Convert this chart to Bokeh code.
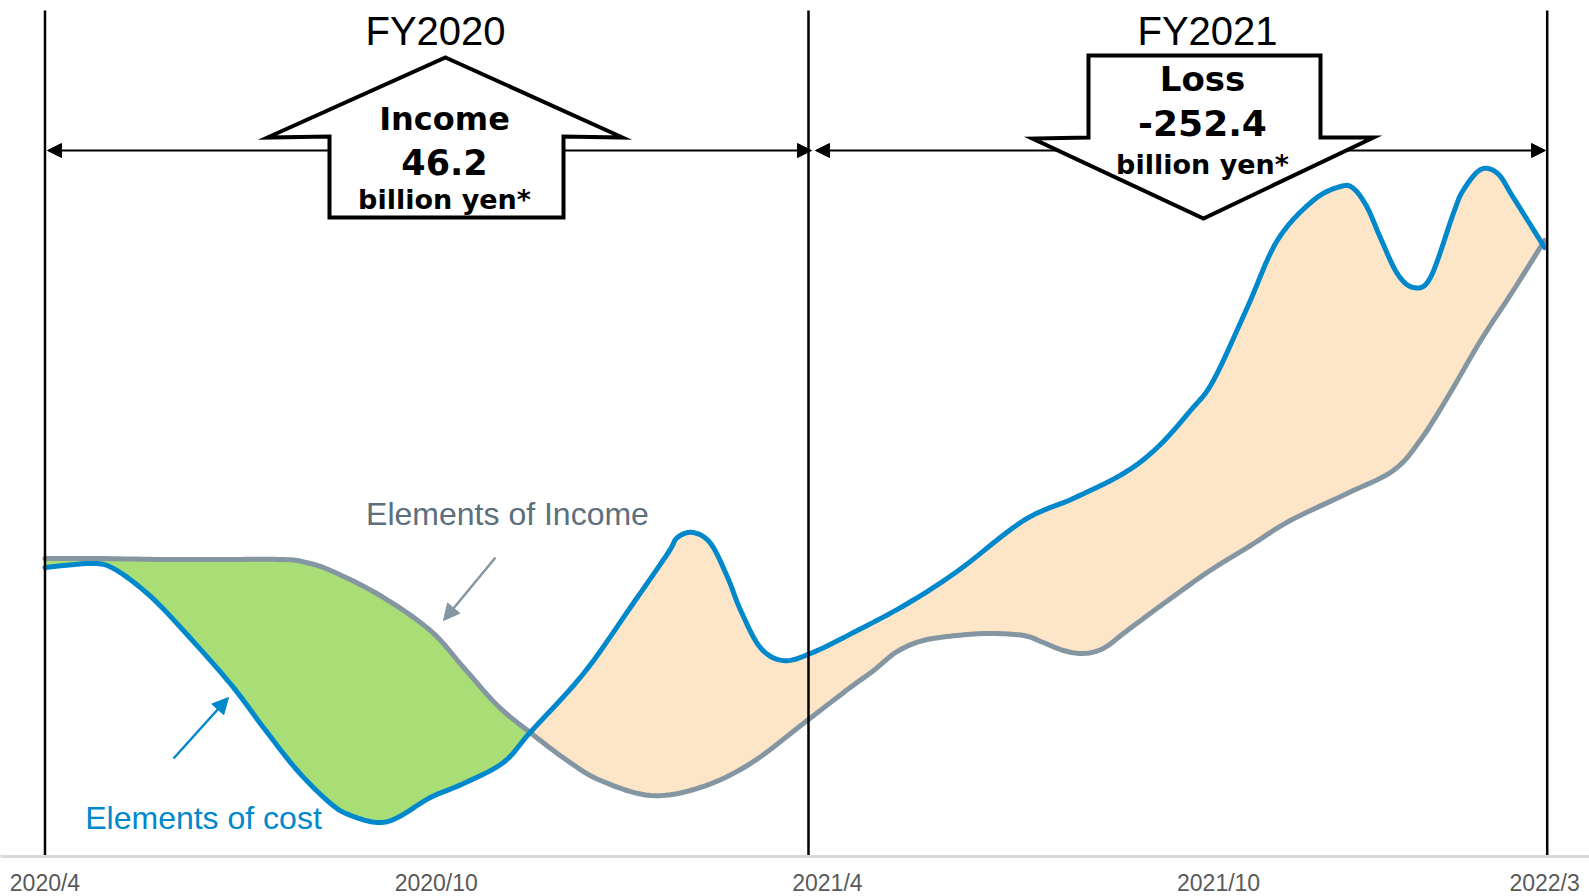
from bokeh.plotting import figure
from bokeh.models import Range1d, FixedTicker, Arrow, NormalHead
from bokeh.core.properties import value
from bokeh.embed import file_html
from bokeh.resources import INLINE

# ---------------- data (x in months since 2020/4, y in arbitrary index) ----------------
income_month = [0.0, 0.85, 1.77, 2.69, 3.66, 4.0, 4.38, 5.14, 5.91, 6.42, 6.94, 7.44,
                8.01, 8.52, 9.29, 10.05, 10.82, 11.69, 12.35, 12.71, 13.07, 13.47, 13.99,
                14.50, 15.01, 15.31, 15.62, 15.93, 16.23, 16.54, 16.95, 17.37, 17.87,
                18.49, 19.10, 19.97, 20.68, 21.09, 21.51, 22.02, 22.52, 23.0]
income_value = [29.8, 29.8, 29.7, 29.7, 29.7, 29.4, 28.6, 26.1, 22.6, 18.9, 15.1, 12.4,
                9.6, 7.6, 6.1, 6.9, 9.3, 13.6, 16.9, 18.6, 20.5, 21.6, 22.1,
                22.3, 22.1, 21.4, 20.6, 20.3, 20.8, 22.3, 24.3, 26.3, 28.6,
                31.1, 33.6, 36.3, 38.6, 41.6, 45.9, 51.6, 56.6, 61.6]

cost_month = [0.0, 0.70, 1.05, 1.57, 2.08, 2.84, 3.35, 3.87, 4.38, 4.69, 5.10, 5.41, 5.91,
              6.42, 7.03, 7.44, 8.26, 9.02, 9.55, 9.70, 9.94, 10.21, 10.47, 10.67, 10.97,
              11.32, 11.74, 12.46, 13.23, 14.01, 15.01, 15.77, 16.54, 17.06, 17.57, 17.92,
              18.44, 18.90, 19.45, 19.87, 20.07, 20.28, 20.48, 20.74, 20.99, 21.25, 21.60,
              21.75, 22.02, 22.28, 22.52, 23.0]
cost_value = [28.9, 29.3, 28.8, 26.3, 22.9, 17.3, 12.9, 8.6, 5.3, 4.1, 3.4, 3.9, 5.9,
              7.3, 9.4, 12.4, 18.3, 25.3, 30.3, 31.9, 32.4, 31.3, 27.9, 24.6, 20.9,
              19.6, 20.3, 22.6, 25.3, 28.6, 33.6, 35.8, 38.3, 40.9, 44.6, 47.6,
              54.9, 61.6, 65.6, 67.0, 66.8, 64.9, 61.9, 58.3, 56.9, 57.9, 64.3,
              66.6, 68.7, 68.3, 65.9, 60.9]

cross_month = 7.44  # where the two curves meet

tick_months = [0, 6, 12, 18, 23]
tick_labels = ["2020/4", "2020/10", "2021/4", "2021/10", "2022/3"]
fy_bounds = [0.0, 11.71, 23.04]
fy_titles = ["FY2020", "FY2021"]
fy_results = [("Income", "46.2", "billion yen*"), ("Loss", "-252.4", "billion yen*")]

# ---------------- colours ----------------
BLUE = "#0088cc"
GRAY = "#8496a2"
GREEN = "#a9de76"
PEACH = "#fde5c7"
LABEL_GRAY = "#5b6f7c"

# helpers to place layout pieces (pixel -> data)
PX0, PXM = 44.5, 65.2
def X(px):
    return (px - PX0) / PXM
def Y(py):
    return (856 - py) / 10.0


def smooth(xs, ys, n=10):
    """Catmull-Rom path through the read points (drawing only)."""
    px = [xs[0]] + list(xs) + [xs[-1]]
    py = [ys[0]] + list(ys) + [ys[-1]]
    ox, oy = [], []
    for i in range(1, len(px) - 2):
        x0, x1, x2, x3 = px[i - 1], px[i], px[i + 1], px[i + 2]
        y0, y1, y2, y3 = py[i - 1], py[i], py[i + 1], py[i + 2]
        for k in range(n):
            t = k / n
            t2, t3 = t * t, t * t * t
            ox.append(0.5 * (2 * x1 + (-x0 + x2) * t + (2 * x0 - 5 * x1 + 4 * x2 - x3) * t2 + (-x0 + 3 * x1 - 3 * x2 + x3) * t3))
            oy.append(0.5 * (2 * y1 + (-y0 + y2) * t + (2 * y0 - 5 * y1 + 4 * y2 - y3) * t2 + (-y0 + 3 * y1 - 3 * y2 + y3) * t3))
    ox.append(xs[-1])
    oy.append(ys[-1])
    return ox, oy


p = figure(frame_width=1589, frame_height=856, output_backend="svg", toolbar_location=None,
           x_range=Range1d(X(0), X(1589)), y_range=Range1d(0, 85.6),
           min_border_left=0, min_border_right=0, min_border_top=0, min_border_bottom=0)
p.outline_line_color = None
p.grid.visible = False
p.yaxis.visible = False
p.background_fill_color = "white"
p.border_fill_color = "white"

xa = p.xaxis[0]
xa.ticker = FixedTicker(ticks=tick_months)
xa.major_label_overrides = {m: l for m, l in zip(tick_months, tick_labels)}
xa.axis_line_color = "#d9d9d9"
xa.axis_line_width = 3
xa.major_tick_line_color = None
xa.minor_tick_line_color = None
xa.major_tick_out = 0
xa.major_label_standoff = 13
xa.major_label_text_font = "Liberation Sans"
xa.major_label_text_font_size = "23px"
xa.major_label_text_color = "#595959"

# ---------------- fills ----------------
ci_i = income_month.index(cross_month)
ci_c = cost_month.index(cross_month)
inc_a = smooth(income_month[:ci_i + 1], income_value[:ci_i + 1])
inc_b = smooth(income_month[ci_i:], income_value[ci_i:])
cst_a = smooth(cost_month[:ci_c + 1], cost_value[:ci_c + 1])
cst_b = smooth(cost_month[ci_c:], cost_value[ci_c:])
p.patch(inc_a[0] + cst_a[0][::-1], inc_a[1] + cst_a[1][::-1], fill_color=GREEN, line_color=None)
p.patch(cst_b[0] + inc_b[0][::-1], cst_b[1] + inc_b[1][::-1], fill_color=PEACH, line_color=None)

# ---------------- curves ----------------
ix, iy = smooth(income_month, income_value)
cx_, cy_ = smooth(cost_month, cost_value)
p.line(ix, iy, line_color=GRAY, line_width=5, line_join="round", line_cap="round")
p.line(cx_, cy_, line_color=BLUE, line_width=5, line_join="round", line_cap="round")

# ---------------- fiscal year boundaries ----------------
p.segment(x0=fy_bounds, y0=[Y(10)] * 3, x1=fy_bounds, y1=[Y(860)] * 3,
          line_color="black", line_width=2.5)

# horizontal period arrows
for xs, xe in [(X(47), X(811)), (X(815), X(1545))]:
    p.add_layout(Arrow(x_start=xs, y_start=Y(150), x_end=xe, y_end=Y(150),
                       start=NormalHead(size=14, fill_color="black", line_color="black"),
                       end=NormalHead(size=14, fill_color="black", line_color="black"),
                       line_color="black", line_width=2))

# ---------------- big block arrows ----------------
up_px = [(445, 57), (622, 137), (563, 136), (563, 217), (329, 217), (329, 136), (267, 137)]
down_px = [(1088, 55), (1320, 55), (1320, 137), (1373, 137), (1203, 218), (1032, 138), (1088, 137)]
for shape in (up_px, down_px):
    p.patch([X(a) for a, b in shape], [Y(b) for a, b in shape], fill_color="white",
            line_color="black", line_width=4, line_join="miter", level="overlay")

BOLD = value("DejaVu Sans")
centers = [444, 1202]
baselines = [(118, 161, 199), (78, 122, 164)]
sizes = [("32px", "35px", "27px"), ("34px", "36px", "27px")]
for cx, (t1, t2, t3), bl, sz in zip(centers, fy_results, baselines, sizes):
    for txt, by, fs in zip((t1, t2, t3), bl, sz):
        p.text(x=[X(cx)], y=[Y(by)], text=[txt], text_font=BOLD, text_font_style="bold",
               text_font_size=value(fs), text_align="center", text_baseline="alphabetic",
               text_color="black", level="overlay")

for cx, title in zip([435, 1207], fy_titles):
    p.text(x=[X(cx)], y=[Y(30)], text=[title], text_font=value("Liberation Sans"),
           text_font_size=value("40px"), text_align="center", text_baseline="alphabetic",
           text_color="black", level="overlay")

# ---------------- curve labels ----------------
p.text(x=[X(507)], y=[Y(513)], text=["Elements of Income"], text_font=value("Liberation Sans"),
       text_font_size=value("32px"), text_align="center", text_baseline="alphabetic",
       text_color=LABEL_GRAY)
p.text(x=[X(203)], y=[Y(817)], text=["Elements of cost"], text_font=value("Liberation Sans"),
       text_font_size=value("32px"), text_align="center", text_baseline="alphabetic",
       text_color=BLUE)

p.add_layout(Arrow(x_start=X(495), y_start=Y(557), x_end=X(443), y_end=Y(620),
                   end=NormalHead(size=16, fill_color=GRAY, line_color=GRAY),
                   line_color=GRAY, line_width=2.5))
p.add_layout(Arrow(x_start=X(173), y_start=Y(758), x_end=X(228), y_end=Y(697),
                   end=NormalHead(size=16, fill_color=BLUE, line_color=BLUE),
                   line_color=BLUE, line_width=2.5))

open("out.html", "w").write(file_html(p, INLINE))
